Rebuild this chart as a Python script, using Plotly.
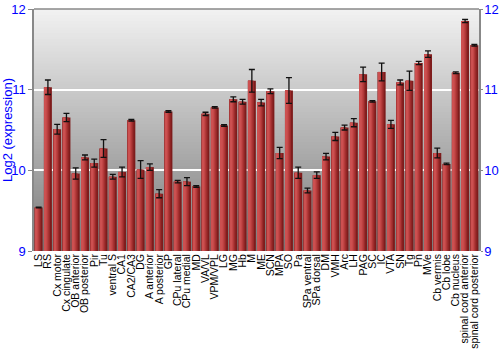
import plotly.graph_objects as go

regions = ["LS", "RS", "Cx motor", "Cx cingulate", "OB anterior", "OB posterior", "Pir", "Tu",
           "ventral S", "CA1", "CA2/CA3", "DG", "A anterior", "A posterior", "GP", "CPu lateral",
           "CPu medial", "MD", "VA/VL", "VPM/VPL", "LG", "MG", "Hb", "M", "ME", "SCN", "MPA", "SO",
           "Pa", "SPa ventral", "SPa dorsal", "DM", "VMH", "Arc", "LH", "PAG", "SC", "IC", "VTA",
           "SN", "Tg", "Pn", "MVe", "Cb vermis", "Cb lobe", "Cb nucleus", "spinal cord anterior",
           "spinal cord posterior"]
expression = [9.54, 11.03, 10.51, 10.655, 9.96, 10.16, 10.09, 10.27,
              9.92, 9.98, 10.62, 10.01, 10.04, 9.71, 10.73, 9.86,
              9.86, 9.80, 10.70, 10.78, 10.555, 10.88, 10.85, 11.11, 10.84, 10.98, 10.215, 10.99,
              9.97, 9.75, 9.94, 10.17, 10.42, 10.53, 10.59, 11.19, 10.855, 11.22, 10.57,
              11.09, 11.11, 11.33, 11.44, 10.215, 10.08, 11.21, 11.85,
              11.55]
errors = [0.005, 0.09, 0.06, 0.05, 0.07, 0.03, 0.05, 0.11,
          0.03, 0.06, 0.01, 0.11, 0.04, 0.05, 0.01, 0.015,
          0.05, 0.01, 0.02, 0.01, 0.01, 0.03, 0.03, 0.14, 0.04, 0.03, 0.07, 0.16,
          0.07, 0.03, 0.04, 0.04, 0.05, 0.03, 0.05, 0.09, 0.01, 0.11, 0.05,
          0.03, 0.12, 0.02, 0.04, 0.06, 0.01, 0.01, 0.02,
          0.01]
y_range = [9, 12]

fig = go.Figure()

# cylinder-like shading: stacked overlay bars of decreasing width
layers = [
    (-0.43, 0.86, "#7e1c1c"),
    (-0.43, 0.66, "#9a2a2a"),
    (-0.41, 0.50, "#b03838"),
    (-0.38, 0.34, "#c24646"),
    (-0.34, 0.18, "#cc5050"),
]
for off, w, col in layers:
    fig.add_trace(go.Bar(
        x=regions, y=[v - y_range[0] for v in expression], base=y_range[0],
        offset=off, width=w, marker=dict(color=col, line=dict(width=0)),
        hoverinfo="skip", showlegend=False))

fig.add_trace(go.Scatter(
    x=regions, y=expression, mode="markers", marker=dict(size=1, opacity=0),
    error_y=dict(type="data", array=errors, color="#111111", thickness=1.3, width=3),
    showlegend=False))

fig.add_trace(go.Scatter(x=regions, y=expression, yaxis="y2", mode="markers",
                         marker=dict(opacity=0), showlegend=False, hoverinfo="skip"))

# gradient background (overlapping strips to avoid seams)
N = 80
shapes = []
for k in range(N):
    t = k / N
    g = int(round(122 + (242 - 122) * (t + 0.5 / N)))
    shapes.append(dict(type="rect", xref="x domain", yref="y domain", x0=0, x1=1,
                       y0=t, y1=min(1, (k + 2) / N), fillcolor=f"rgb({g},{g},{g})",
                       line=dict(width=0), layer="below"))
shapes.append(dict(type="line", xref="x domain", yref="y domain", x0=0, x1=1, y0=1, y1=1,
                   line=dict(color="#888888", width=1.5), layer="above"))

fig.update_layout(
    width=500, height=350,
    margin=dict(l=34, r=21, t=9, b=99),
    paper_bgcolor="white", plot_bgcolor="rgba(0,0,0,0)",
    barmode="overlay", bargap=0.14,
    font=dict(family="Liberation Sans, Arial, sans-serif"),
    shapes=shapes,
    xaxis=dict(type="category", tickangle=-90, tickfont=dict(size=10.5, color="black"),
               tickmode="array", tickvals=regions, ticktext=regions, automargin=False,
               showgrid=False, ticks="", showline=False, range=[-0.5, len(regions) - 0.5]),
    yaxis=dict(range=y_range, dtick=1, tickfont=dict(size=13, color="#0000ff"), automargin=False,
               title=dict(text="Log2 (expression)", font=dict(size=13, color="#0000ff"), standoff=4),
               showgrid=True, gridcolor="white", gridwidth=1.5, zeroline=False,
               showline=True, linecolor="#888888", linewidth=1.5,
               ticks="outside", ticklen=4, tickcolor="#888888"),
    yaxis2=dict(range=y_range, dtick=1, overlaying="y", side="right", automargin=False,
                tickfont=dict(size=13, color="#0000ff"), showgrid=False, zeroline=False,
                showline=True, linecolor="#888888", linewidth=1.5,
                ticks="outside", ticklen=2, tickcolor="#888888", ticklabelstandoff=-1),
)

fig.write_html("out.html")
